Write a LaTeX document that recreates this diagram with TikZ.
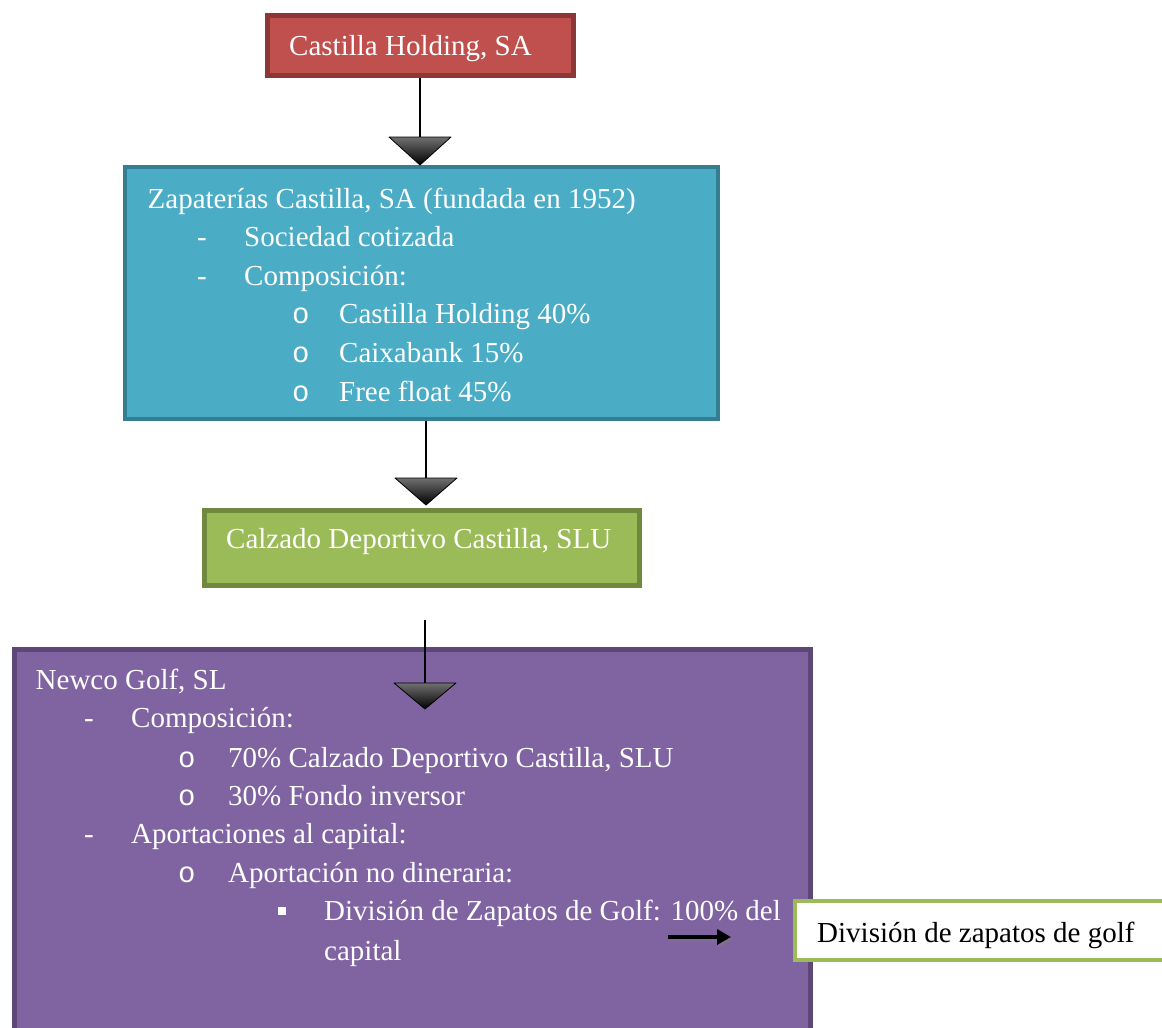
\documentclass[tikz,border=0pt]{standalone}
\usepackage{fontspec}
\setmainfont{Liberation Serif}
\newfontfamily\bulfont{Liberation Mono}
\usetikzlibrary{arrows.meta,calc}
\definecolor{redfill}{HTML}{C0504D}
\definecolor{redline}{HTML}{8C3836}
\definecolor{bluefill}{HTML}{4BACC6}
\definecolor{blueline}{HTML}{357D91}
\definecolor{greenfill}{HTML}{9BBB59}
\definecolor{greenline}{HTML}{71893F}
\definecolor{purplefill}{HTML}{8064A2}
\definecolor{purpleline}{HTML}{5C4776}
\definecolor{trigray}{HTML}{707070}
\begin{document}
\begin{tikzpicture}[x=1pt,y=-1pt,
  box/.style={rectangle, inner sep=0pt, line width=5pt},
  txt/.style={anchor=base west, inner sep=0pt, text=white, font=\fontsize{29}{35}\selectfont},
  btxt/.style={anchor=base west, inner sep=0pt, text=black, font=\fontsize{29}{35}\selectfont},
  bul/.style={anchor=base west, inner sep=0pt, text=white, font=\bulfont\fontsize{29}{35}\selectfont},
  conn/.style={line width=2pt, black},
  tri/.style={top color=trigray, bottom color=black, draw=black, line width=0.8pt, line join=round}
]
\clip (0,0) rectangle (1162,1028);
\fill[white] (0,0) rectangle (1162,1028);

% boxes
\node[box, draw=redline, fill=redfill, minimum width=306pt, minimum height=60pt] (red) at (420.5,45.5) {};
\node[box, line width=4pt, draw=blueline, fill=bluefill, minimum width=593pt, minimum height=252pt] (blue) at (421.5,293) {};
\node[box, draw=greenline, fill=greenfill, minimum width=435pt, minimum height=75pt] (green) at (422,548) {};
\node[box, draw=purpleline, fill=purplefill, minimum width=796pt, minimum height=410pt] (purple) at (412.5,854.5) {};

% red text
\node[txt] (tred) at (289,55) {Castilla Holding, SA};

% blue text
\node[txt] (b1) at (147.5,208) {Zapaterías Castilla, SA (fundada en 1952)};
\node[txt] (b2d) at (197,246) {-};
\node[txt] (b2) at (244,246) {Sociedad cotizada};
\node[txt] (b3d) at (197,285) {-};
\node[txt] (b3) at (244,285) {Composición:};
\node[bul] (b4o) at (292,323) {o};
\node[txt] (b4) at (339,323) {Castilla Holding 40\%};
\node[bul] (b5o) at (292,362) {o};
\node[txt] (b5) at (339,362) {Caixabank 15\%};
\node[bul] (b6o) at (292,401) {o};
\node[txt] (b6) at (339,401) {Free float 45\%};

% green text
\node[txt] (tgreen) at (226,548) {Calzado Deportivo Castilla, SLU};

% purple text
\node[txt] (p1) at (35.5,689) {Newco Golf, SL};
\node[txt] (p2d) at (84,727) {-};
\node[txt] (p2) at (131,727) {Composición:};
\node[bul] (p3o) at (178,767) {o};
\node[txt] (p3) at (228,767) {70\% Calzado Deportivo Castilla, SLU};
\node[bul] (p4o) at (178,805) {o};
\node[txt] (p4) at (228,805) {30\% Fondo inversor};
\node[txt] (p5d) at (84,843) {-};
\node[txt] (p5) at (131,843) {Aportaciones al capital:};
\node[bul] (p6o) at (178,882) {o};
\node[txt] (p6) at (228,882) {Aportación no dineraria:};
\node[fill=white, inner sep=0pt, minimum width=8pt, minimum height=8pt] (p7s) at (282,911) {};
\node[txt] (p7) at (324,920) {División de Zapatos de Golf: 100\% del};
\node[txt] (p8) at (324,960) {capital};

% white box
\node[box, line width=4pt, draw=greenfill, fill=white, minimum width=373pt, minimum height=59pt] (white) at (981.5,930.5) {};
\node[btxt] (twhite) at (817,942) {División de zapatos de golf};

% connectors
\coordinate (t1) at (420,137);
\draw[conn] (red.south -| t1) -- (t1);
\shade[tri] ($(t1)+(-31,0)$) -- ($(t1)+(31,0)$) -- ($(t1)+(0,28)$) -- cycle;

\coordinate (t2) at (426,478);
\draw[conn] (blue.south -| t2) -- (t2);
\shade[tri] ($(t2)+(-31,0)$) -- ($(t2)+(31,0)$) -- ($(t2)+(0,27)$) -- cycle;

\coordinate (s3) at (425,620);
\coordinate (t3) at (425,683);
\draw[conn] (s3) -- (t3);
\shade[tri] ($(t3)+(-31,0)$) -- ($(t3)+(31,0)$) -- ($(t3)+(0,26)$) -- cycle;

\coordinate (s4) at (668,937);
\coordinate (e4) at (731,937);
\draw[line width=4.5pt, black!50, opacity=0.35, -{Triangle[length=14pt,width=15pt]}] ($(s4)+(1.5,3)$) -- ($(e4)+(1.5,3)$);
\draw[line width=4.5pt, black, -{Triangle[length=14pt,width=15pt]}] (s4) -- (e4);
\end{tikzpicture}
\end{document}
